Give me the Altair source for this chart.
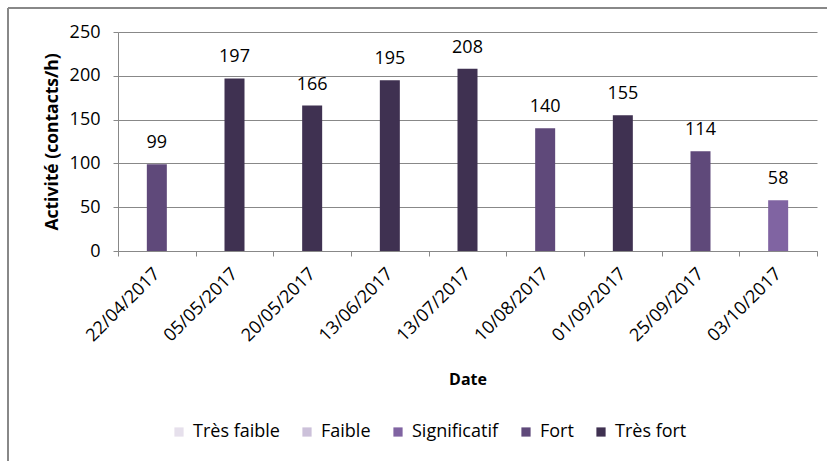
import altair as alt
import pandas as pd

# Activity per survey date, with its qualitative level
dates = ["22/04/2017", "05/05/2017", "20/05/2017", "13/06/2017", "13/07/2017",
         "10/08/2017", "01/09/2017", "25/09/2017", "03/10/2017"]
activity = [99, 197, 166, 195, 208, 140, 155, 114, 58]
levels = ["Fort", "Très fort", "Très fort", "Très fort", "Très fort",
          "Fort", "Très fort", "Fort", "Significatif"]

level_names = ["Très faible", "Faible", "Significatif", "Fort", "Très fort"]
level_colors = ["#E6E0EC", "#CCC1DA", "#8064A2", "#5F497A", "#3F3151"]

df = pd.DataFrame({"Date": dates, "Activité": activity, "Niveau": levels})

FONT = "Open Sans"
W, H = 699, 219

x = alt.X("Date:N", sort=dates, title="Date",
          scale=alt.Scale(paddingInner=0, paddingOuter=0),
          axis=alt.Axis(labelAngle=-45, labelAlign="right", labelBaseline="middle",
                        labelPadding=15, tickBand="extent", tickSize=5,
                        tickColor="#888888", domainColor="#888888",
                        labelFont=FONT, labelFontSize=18, labelColor="#000000",
                        titleFont=FONT, titleFontSize=16, titleFontWeight="bold",
                        titleColor="#000000", titleY=133, titleBaseline="alphabetic"))

bars = alt.Chart(df).mark_bar(size=20).encode(
    x=x,
    y=alt.Y("Activité:Q", title="Activité (contacts/h)",
            scale=alt.Scale(domain=[0, 250], nice=False),
            axis=alt.Axis(values=[0, 50, 100, 150, 200, 250], tickSize=5,
                          tickColor="#888888", domainColor="#888888",
                          gridColor="#888888", gridWidth=1, labelPadding=13,
                          labelFont=FONT, labelFontSize=18, labelColor="#000000",
                          titleFont=FONT, titleFontSize=17.5, titleFontWeight="bold",
                          titleColor="#000000", titlePadding=8)),
    color=alt.Color("Niveau:N", title=None,
                    scale=alt.Scale(domain=level_names, range=level_colors),
                    legend=alt.Legend(orient="none", direction="horizontal",
                                      legendX=52, legendY=391,
                                      symbolType="square", symbolSize=85,
                                      symbolStrokeWidth=0, columnPadding=18,
                                      labelFont=FONT, labelFontSize=18,
                                      labelColor="#000000", labelOffset=5)),
)

labels = alt.Chart(df).mark_text(font=FONT, fontSize=18, color="#000000",
                                 baseline="alphabetic", dy=-16).encode(
    x=alt.X("Date:N", sort=dates),
    y="Activité:Q",
    text="Activité:Q",
)

# Outer frame of the chart area (top and left edges)
frame_top = alt.Chart(df).mark_rule(color="#888888", strokeWidth=2).encode(
    x=alt.value(-110), x2=alt.value(W + 20), y=alt.value(-24))
frame_left = alt.Chart(df).mark_rule(color="#888888", strokeWidth=2).encode(
    x=alt.value(-110), y=alt.value(-24), y2=alt.value(H + 230))

chart = alt.layer(bars, labels, frame_top, frame_left).properties(
    width=W, height=H,
    autosize=alt.AutoSizeParams(type="none"),
    padding={"left": 118, "top": 32, "right": 10, "bottom": 210},
    background="white",
).configure_view(stroke=None)

chart.save("out.html", embed_options={"renderer": "svg", "actions": False})
